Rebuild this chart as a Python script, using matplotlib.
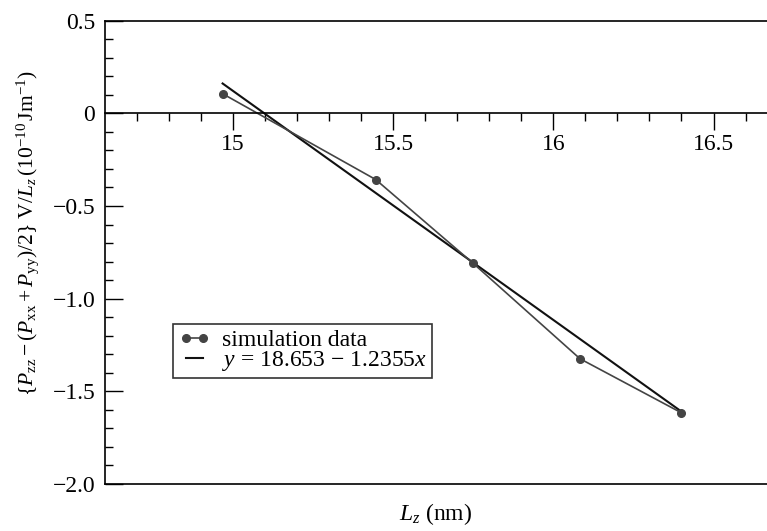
import matplotlib
matplotlib.use('Agg')
import matplotlib.pyplot as plt
import numpy as np

# simulation data
lz = [14.967, 15.445, 15.75, 16.083, 16.40]
tension = [0.106, -0.357, -0.81, -1.324, -1.616]

# linear fit y = a + b x
fit_a = 18.653
fit_b = -1.2355

xticks = [15, 15.5, 16, 16.5]
xtick_labels = ['15', '15.5', '16', '16.5']
yticks = [0.5, 0, -0.5, -1.0, -1.5, -2.0]
ytick_labels = ['0.5', '0', '\u22120.5', '\u22121.0', '\u22121.5', '\u22122.0']

plt.rcParams['font.family'] = 'Liberation Serif'
plt.rcParams['mathtext.fontset'] = 'custom'
plt.rcParams['mathtext.rm'] = 'Liberation Serif'
plt.rcParams['mathtext.it'] = 'Liberation Serif:italic'
plt.rcParams['mathtext.bf'] = 'Liberation Serif:bold'

fig = plt.figure(figsize=(7.67, 5.31), dpi=100)
ax = fig.add_axes([0.137, 0.0885, 0.863, 0.8725])

fx = np.array([min(lz), max(lz)])
ax.plot(fx, fit_a + fit_b * fx, color='#111111', lw=1.5,
        label='$y$ = 18.653 \u2212 1.2355$x$')
ax.plot(lz, tension, color='#444444', lw=1.2, marker='o', ms=5.5,
        mfc='#444444', mec='#444444', label='simulation data')

ax.set_xlim(14.6, 16.667)
ax.set_ylim(-2.0, 0.5)

# x axis drawn through y = 0, frame line kept at the bottom
ax.spines['right'].set_visible(False)
ax.spines['bottom'].set_position(('data', 0))
ax.axhline(-2.0, color='black', lw=1.2, clip_on=False)
for s in ['left', 'top', 'bottom']:
    ax.spines[s].set_linewidth(1.2)

ax.set_xticks(xticks)
ax.set_xticklabels(xtick_labels)
ax.set_xticks(np.arange(14.7, 16.7, 0.1), minor=True)
ax.set_yticks(yticks)
ax.set_yticklabels(ytick_labels)
ax.set_yticks(np.arange(-1.9, 0.5, 0.1), minor=True)

ax.tick_params(axis='x', which='major', direction='out', length=12, width=1,
               labelsize=17, pad=3)
ax.tick_params(axis='x', which='minor', direction='out', length=6, width=1)
ax.tick_params(axis='y', which='major', direction='in', length=13, width=1,
               labelsize=17, pad=7)
ax.tick_params(axis='y', which='minor', direction='in', length=6, width=1)

ax.set_xlabel('$L_z$ (nm)', fontsize=17)
ax.xaxis.set_label_coords(0.5, -0.037)
ax.set_ylabel(r'$\{P_{\rm zz} - (P_{\rm xx} + P_{\rm yy})/2\}\ {\rm V}/L_z\,(10^{-10}\,{\rm Jm}^{-1})$',
              fontsize=15.5)
ax.yaxis.set_label_coords(-0.097, 0.542)

handles, labels = ax.get_legend_handles_labels()
leg = ax.legend(handles[::-1], labels[::-1], loc='upper left',
                bbox_to_anchor=(0.103, 0.345), fontsize=17, numpoints=2,
                handlelength=1.35, handletextpad=0.5, borderpad=0.22,
                labelspacing=-0.08, fancybox=False, framealpha=1,
                edgecolor='#333333', borderaxespad=0)
leg.get_frame().set_linewidth(1.2)

fig.savefig('out.png', dpi=100)
